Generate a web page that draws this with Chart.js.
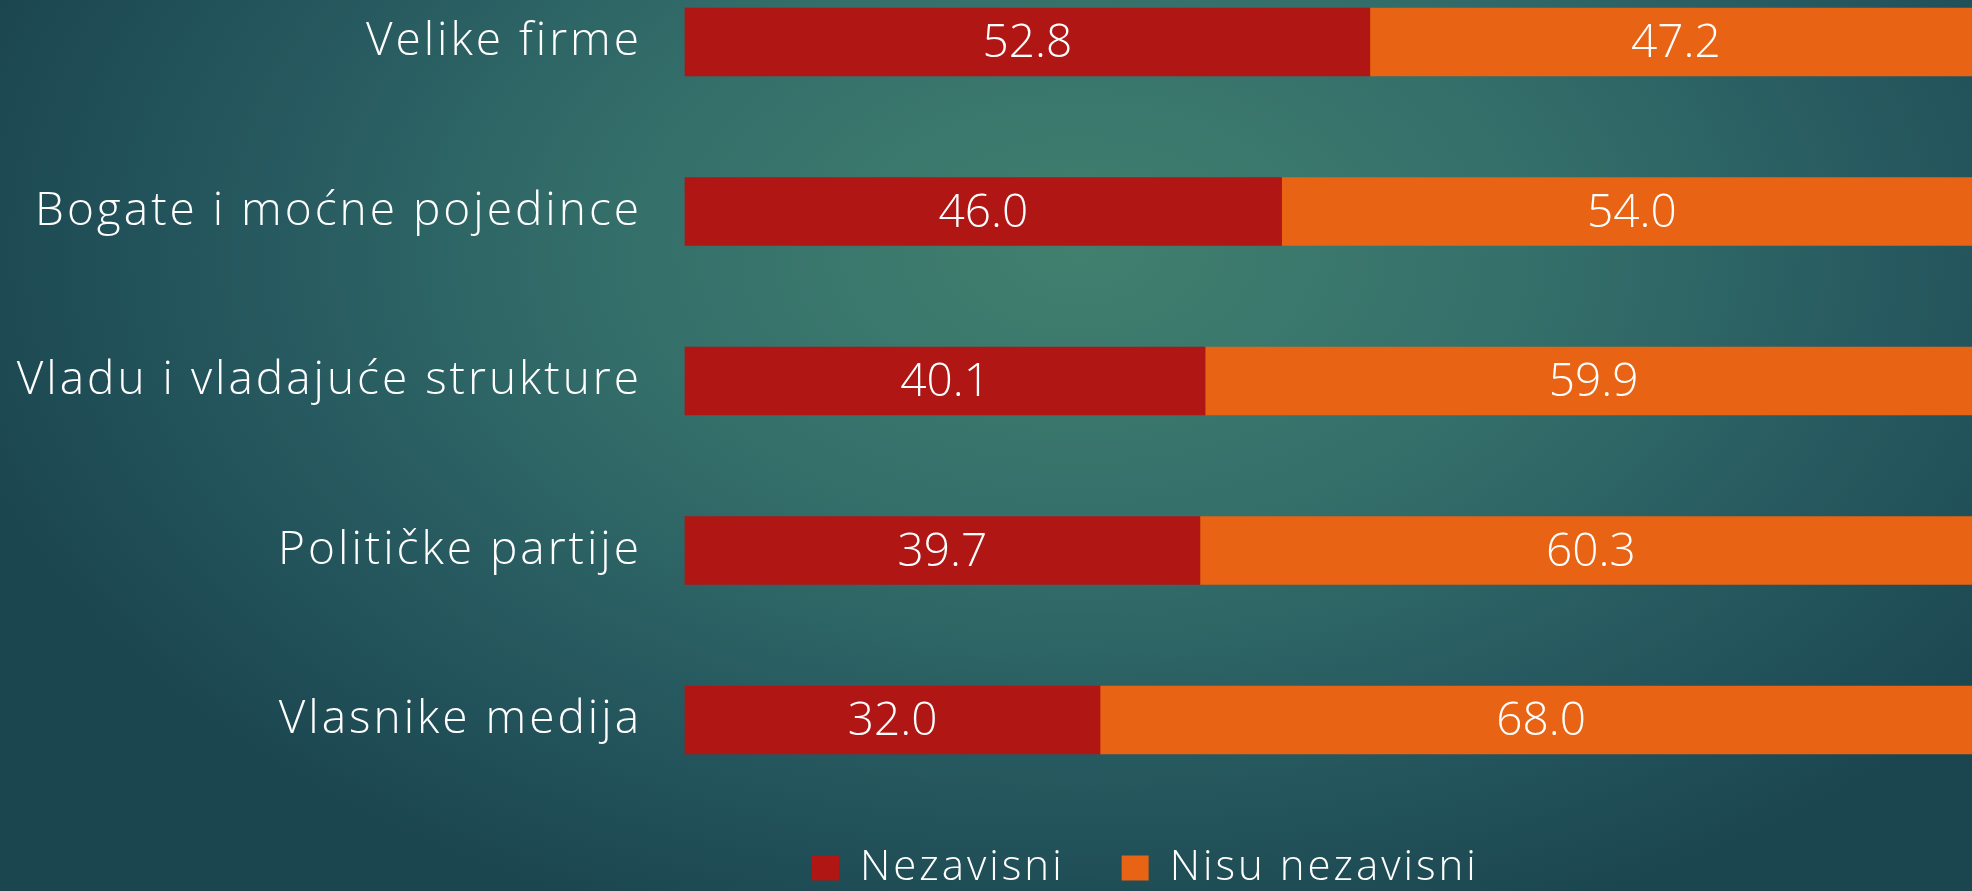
<!DOCTYPE html>
<html lang="sr">

<head>
    <meta charset="UTF-8">
    <meta name="viewport" content="width=device-width, initial-scale=1.0">
    <title>Nezavisni</title>

    <script src="https://cdn.jsdelivr.net/npm/chart.js"></script>
    <style>
        html, body {
            margin: 0;
            padding: 0;
            width: 1972px;
            height: 891px;
            overflow: hidden;
            background: radial-gradient(ellipse 1150px 720px at 1080px 250px, #41806f 0%, #346f6a 40%, #275a60 70%, #1b4650 100%);
        }
        #wrap {
            position: absolute;
            left: 0;
            top: 0;
            width: 1982px;
            height: 891px;
        }
    </style>
</head>

<body>
    <div id="wrap"><canvas id="myChart"></canvas></div>

    <script>
        const ctx = document.getElementById('myChart');
        const FONT = "'Open Sans', 'Noto Sans', sans-serif";

        const categories = ['Velike firme', 'Bogate i moćne pojedince', 'Vladu i vladajuće strukture', 'Političke partije', 'Vlasnike medija'];
        const nezavisni = [52.8, 46.0, 40.1, 39.7, 32.0];
        const nisuNezavisni = [47.2, 54.0, 59.9, 60.3, 68.0];

        // wider lettering, the original font is a wide one
        const spacing = {
            id: 'spacing',
            beforeUpdate(chart) { chart.ctx.letterSpacing = '3px'; },
            beforeDraw(chart) { chart.ctx.letterSpacing = '3px'; }
        };

        // values in the middle of every bar piece
        const barValues = {
            id: 'barValues',
            afterDatasetsDraw(chart) {
                const c = chart.ctx;
                c.save();
                c.letterSpacing = '0px';
                c.fillStyle = '#ffffff';
                c.font = "300 46px " + FONT;
                c.textAlign = 'center';
                c.textBaseline = 'middle';
                chart.data.datasets.forEach((ds, i) => {
                    chart.getDatasetMeta(i).data.forEach((bar, j) => {
                        const p = bar.getCenterPoint();
                        c.fillText(ds.data[j].toFixed(1), p.x, p.y + 2);
                    });
                });
                c.restore();
            }
        };

        // legend sits right of the middle in the original, first box at x=812
        const legendShift = {
            id: 'legendShift',
            afterLayout(chart) {
                const lg = chart.legend;
                const pad = lg.options.labels.padding;
                const start = (lg.left + pad + lg.right - lg.lineWidths[0]) / 2;
                const shift = 812 - start;
                lg.left += shift;
                lg.right += shift;
            }
        };

        new Chart(ctx, {
            type: 'bar',
            data: {
                labels: categories,
                datasets: [{
                    label: 'Nezavisni',
                    data: nezavisni,
                    backgroundColor: '#b01614',
                    barThickness: 68,
                    clip: false
                }, {
                    label: 'Nisu nezavisni',
                    data: nisuNezavisni,
                    backgroundColor: '#e86314',
                    barThickness: 68,
                    clip: false
                }]
            },
            options: {
                indexAxis: 'y',
                responsive: true,
                maintainAspectRatio: false,
                animation: false,
                layout: {
                    padding: { top: 42, bottom: -8, left: 0, right: 0 }
                },
                scales: {
                    x: {
                        stacked: true,
                        min: 0,
                        max: 100,
                        grid: { display: false, drawTicks: false },
                        border: { display: false },
                        ticks: { display: false },
                        afterFit(s) { s.height = 70; }
                    },
                    y: {
                        stacked: true,
                        offset: false,
                        grid: { display: false, drawTicks: false },
                        border: { display: false },
                        ticks: {
                            color: '#ffffff',
                            padding: 43,
                            font: { family: FONT, size: 46, weight: 300 }
                        },
                        afterFit(s) {
                            s.width = 685;
                            s.paddingTop = 0;
                            s.paddingBottom = 0;
                        }
                    }
                },
                plugins: {
                    tooltip: { enabled: false },
                    legend: {
                        position: 'bottom',
                        labels: {
                            color: '#ffffff',
                            boxWidth: 27,
                            boxHeight: 25,
                            padding: 57,
                            font: { family: FONT, size: 42, weight: 300 }
                        }
                    }
                }
            },
            plugins: [spacing, barValues, legendShift]
        });
    </script>
</body>

</html>
